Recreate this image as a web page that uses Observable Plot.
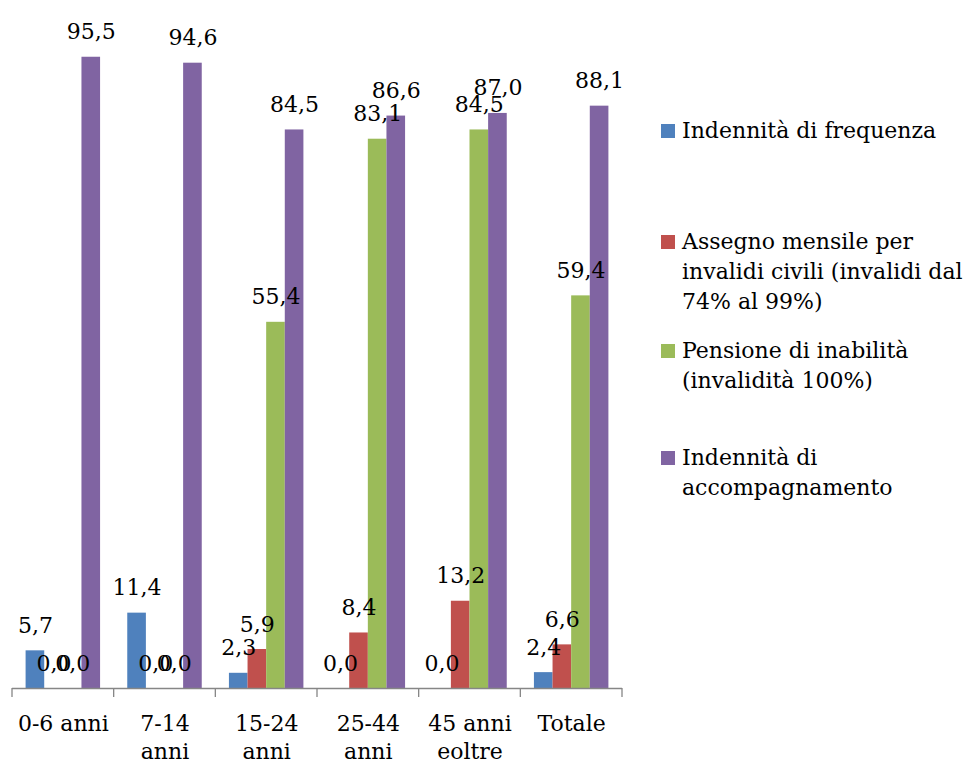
<!DOCTYPE html>
<html>
<head>
<meta charset="utf-8">
<script src="https://cdn.jsdelivr.net/npm/d3@7"></script>
<script src="https://cdn.jsdelivr.net/npm/@observablehq/plot@0.6"></script>
<style>
  html, body { margin: 0; padding: 0; background: #fff; }
  #chart { position: relative; width: 973px; height: 765px; font-family: "DejaVu Serif", serif; }
  #legend { position: absolute; left: 0; top: 0; }
  .item { position: absolute; left: 682px; font-size: 22px; line-height: 30px; white-space: nowrap; color: #000; }
  .sw { position: absolute; left: -21px; top: 8px; width: 14px; height: 14px; }
</style>
</head>
<body>
<div id="chart"></div>
<script>
// Age groups and their axis labels
const categories = ["0-6 anni", "7-14 anni", "15-24 anni", "25-44 anni", "45 anni eoltre", "Totale"];
const tickLabels = ["0-6 anni", "7-14\nanni", "15-24\nanni", "25-44\nanni", "45 anni\neoltre", "Totale"];

// Series names, as shown in the legend
const series = [
  "Indennità di frequenza",
  "Assegno mensile per invalidi civili (invalidi dal 74% al 99%)",
  "Pensione di inabilità (invalidità 100%)",
  "Indennità di accompagnamento"
];
const legendLines = [
  ["Indennità di frequenza"],
  ["Assegno mensile per", "invalidi civili (invalidi dal", "74% al 99%)"],
  ["Pensione di inabilità", "(invalidità 100%)"],
  ["Indennità di", "accompagnamento"]
];
const colors = ["#4F81BD", "#C0504D", "#9BBB59", "#8064A2"];

// Percentages per age group
const frequenza = [5.7, 11.4, 2.3, 0.0, 0.0, 2.4];
const assegno = [0.0, 0.0, 5.9, 8.4, 13.2, 6.6];
const pensione = [0.0, 0.0, 55.4, 83.1, 84.5, 59.4];
const accompagnamento = [95.5, 94.6, 84.5, 86.6, 87.0, 88.1];

const seriesValues = [frequenza, assegno, pensione, accompagnamento];
const data = [];
categories.forEach((c, i) => {
  series.forEach((s, j) => data.push({cat: c, serie: s, value: seriesValues[j][i]}));
});

const fmt = v => d3.format(".1f")(v).replace(".", ",");
const labelOf = new Map(categories.map((c, i) => [c, tickLabels[i]]));

const chart = Plot.plot({
  width: 973,
  height: 765,
  marginLeft: 12,
  marginRight: 351,
  marginTop: 27,
  marginBottom: 77,
  style: {fontFamily: "DejaVu Serif", fontSize: "22px", color: "#000", background: "#fff"},
  fx: {domain: categories, padding: 0, round: false, axis: null},
  x: {domain: series, paddingInner: 0, paddingOuter: 0.73, round: false, axis: null},
  y: {domain: [0, 100], axis: null},
  color: {domain: series, range: colors},
  marks: [
    Plot.barY(data, {fx: "cat", x: "serie", y: "value", fill: "serie"}),
    Plot.text(data, {
      fx: "cat", x: "serie", y: "value", text: d => fmt(d.value),
      lineAnchor: "bottom", dy: -18, fill: "#000", fontSize: 22
    }),
    Plot.ruleY([0], {stroke: "#868686", strokeWidth: 1.3}),
    Plot.axisFx({
      anchor: "bottom", tickSize: 0, tickPadding: 22, label: null,
      tickFormat: c => labelOf.get(c), lineHeight: 1.3, fontSize: 22, fill: "#000"
    })
  ]
});

// Tick marks on the category axis sit at the boundaries between groups
const fx = chart.scale("fx");
const y0 = chart.scale("y").apply(0);
const bounds = categories.map(c => fx.apply(c)).concat([fx.apply(categories[categories.length - 1]) + fx.bandwidth]);
d3.select(chart).append("g")
  .attr("stroke", "#868686").attr("stroke-width", 1.3)
  .selectAll("line").data(bounds).join("line")
  .attr("x1", d => d).attr("x2", d => d)
  .attr("y1", y0).attr("y2", y0 + 9);

const root = document.getElementById("chart");
root.appendChild(chart);

// Legend to the right of the plot
const legendTops = [116, 227, 336, 443];
const legend = document.createElement("div");
legend.id = "legend";
legendLines.forEach((lines, i) => {
  const item = document.createElement("div");
  item.className = "item";
  item.style.top = legendTops[i] + "px";
  const sw = document.createElement("span");
  sw.className = "sw";
  sw.style.background = colors[i];
  item.appendChild(sw);
  lines.forEach((t, k) => {
    if (k) item.appendChild(document.createElement("br"));
    item.appendChild(document.createTextNode(t));
  });
  legend.appendChild(item);
});
root.appendChild(legend);
</script>
</body>
</html>
